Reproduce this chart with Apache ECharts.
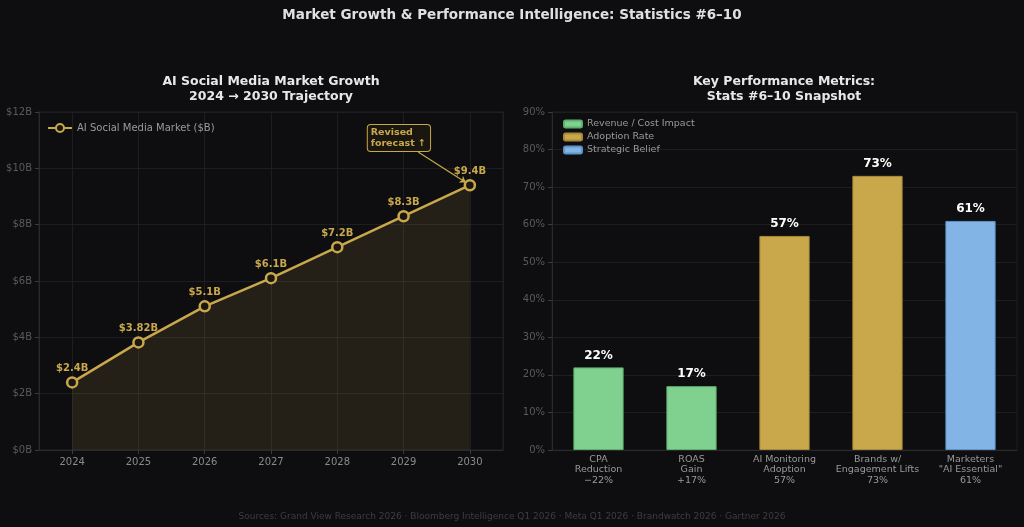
<!DOCTYPE html>
<html>
  <head>
    <meta charset="utf-8" />
    <title>ECharts</title>
    <script src="https://cdn.jsdelivr.net/npm/echarts@6/dist/echarts.min.js"></script>
    <style>
      body { margin: 0; background: #0e0e10; }
    </style>
  </head>

  <body>
    <div id="main" style="width: 1024px; height: 527px"></div>
    <script type="text/javascript">
      var myChart = echarts.init(document.getElementById("main"));

      // market growth (left)
      const years = [2024, 2025, 2026, 2027, 2028, 2029, 2030];
      const marketValues = [2.4, 3.82, 5.1, 6.1, 7.2, 8.3, 9.4];
      const marketLabels = ["$2.4B", "$3.82B", "$5.1B", "$6.1B", "$7.2B", "$8.3B", "$9.4B"];

      // performance metrics (right)
      const metricNames = [
        "CPA\nReduction\n\u221222%",
        "ROAS\nGain\n+17%",
        "AI Monitoring\nAdoption\n57%",
        "Brands w/\nEngagement Lifts\n73%",
        'Marketers\n"AI Essential"\n61%',
      ];
      const metricValues = [22, 17, 57, 73, 61];
      const metricGroups = [0, 0, 1, 1, 2];
      const groupNames = ["Revenue / Cost Impact", "Adoption Rate", "Strategic Belief"];
      const groupColors = ["#80d18f", "#c9a84c", "#82b4e6"];
      const groupBorders = ["#5fae6e", "#a8893a", "#5f93c8"];

      const gold = "#c9a84c";
      const font = "DejaVu Sans";

      const barSeries = groupNames.map(function (name, g) {
        return {
          name: name,
          type: "bar",
          xAxisIndex: 1,
          yAxisIndex: 1,
          stack: "metrics",
          barWidth: "54%",
          itemStyle: { color: groupColors[g], borderColor: groupBorders[g], borderWidth: 1 },
          label: {
            show: true,
            position: "top",
            distance: 6,
            color: "#ffffff",
            fontWeight: "bold",
            fontSize: 12,
            fontFamily: font,
            formatter: function (p) { return p.value + "%"; },
          },
          data: metricValues.map(function (v, i) {
            return metricGroups[i] === g ? v : null;
          }),
        };
      });

      const axisLabelStyle = { color: "#5a5a5a", fontSize: 10, fontFamily: font };
      const gridLine = { show: true, lineStyle: { color: "#1e1e21", width: 1 } };
      const axisLine = { show: true, lineStyle: { color: "#2a2a2d" } };

      option = {
        backgroundColor: "#0e0e10",
        textStyle: { fontFamily: font },
        title: [
          {
            text: "Market Growth & Performance Intelligence: Statistics #6\u201310",
            left: "center",
            top: 3,
            textStyle: { color: "#e0e0e0", fontSize: 13.5, fontWeight: "bold", fontFamily: font },
          },
          {
            text: "AI Social Media Market Growth\n2024 \u2192 2030 Trajectory",
            left: 266,
            top: 69,
            textAlign: "center",
            textStyle: { color: "#e8e8e8", fontSize: 12.5, fontWeight: "bold", lineHeight: 15, fontFamily: font },
          },
          {
            text: "Key Performance Metrics:\nStats #6\u201310 Snapshot",
            left: 779,
            top: 69,
            textAlign: "center",
            textStyle: { color: "#e8e8e8", fontSize: 12.5, fontWeight: "bold", lineHeight: 15, fontFamily: font },
          },
          {
            text: "Sources: Grand View Research 2026 \u00b7 Bloomberg Intelligence Q1 2026 \u00b7 Meta Q1 2026 \u00b7 Brandwatch 2026 \u00b7 Gartner 2026",
            left: "center",
            top: 507,
            textStyle: { color: "#3e3e42", fontSize: 9, fontWeight: "normal", fontFamily: font },
          },
        ],
        legend: [
          {
            data: ["AI Social Media Market ($B)"],
            left: 42,
            top: 118,
            itemWidth: 24,
            itemHeight: 10,
            itemGap: 4,
            textStyle: { color: "#9a9a9a", fontSize: 10, fontFamily: font },
          },
          {
            data: groupNames,
            orient: "vertical",
            left: 558,
            top: 114,
            itemGap: 3,
            itemWidth: 18,
            itemHeight: 7,
            textStyle: { color: "#9a9a9a", fontSize: 9.5, fontFamily: font },
          },
        ],
        grid: [
          {
            left: 39, right: 521, top: 112, bottom: 77,
            show: true, borderColor: "#222225", borderWidth: 1, backgroundColor: "transparent",
          },
          {
            left: 552, right: 7, top: 112, bottom: 77,
            show: true, borderColor: "#1c1c1f", borderWidth: 1, backgroundColor: "transparent",
          },
        ],
        xAxis: [
          {
            type: "value",
            gridIndex: 0,
            min: years[0] - 0.5,
            max: years[years.length - 1] + 0.5,
            splitNumber: 7,
            axisLine: axisLine,
            axisTick: { show: true, length: 4, lineStyle: { color: "#3a3a3d" } },
            axisLabel: {
              color: "#8a8a8a", fontSize: 10, fontFamily: font, margin: 7,
              showMinLabel: false, showMaxLabel: false,
              formatter: function (v) { return Number.isInteger(v) ? String(v) : ""; },
            },
            splitLine: gridLine,
          },
          {
            type: "category",
            gridIndex: 1,
            data: metricNames,
            axisLine: axisLine,
            axisTick: { show: false },
            axisLabel: { color: "#999999", fontSize: 9.5, lineHeight: 10.5, fontFamily: font, margin: 4, interval: 0 },
            splitLine: { show: false },
          },
        ],
        yAxis: [
          {
            type: "value",
            gridIndex: 0,
            min: 0,
            max: 12,
            interval: 2,
            axisLine: axisLine,
            axisTick: { show: true, length: 4, lineStyle: { color: "#3a3a3d" } },
            axisLabel: Object.assign({}, axisLabelStyle, {
              margin: 7,
              formatter: function (v) { return "$" + v + "B"; },
            }),
            splitLine: gridLine,
          },
          {
            type: "value",
            gridIndex: 1,
            min: 0,
            max: 90,
            interval: 10,
            axisLine: axisLine,
            axisTick: { show: true, length: 4, lineStyle: { color: "#3a3a3d" } },
            axisLabel: Object.assign({}, axisLabelStyle, {
              margin: 7,
              formatter: function (v) { return v + "%"; },
            }),
            splitLine: gridLine,
          },
        ],
        series: [
          {
            name: "AI Social Media Market ($B)",
            type: "line",
            xAxisIndex: 0,
            yAxisIndex: 0,
            data: years.map(function (y, i) { return [y, marketValues[i]]; }),
            symbol: "circle",
            symbolSize: 10,
            lineStyle: { color: gold, width: 2.5 },
            itemStyle: { color: "#1a1710", borderColor: gold, borderWidth: 2.5 },
            areaStyle: { color: "rgba(201,168,76,0.17)" },
            label: {
              show: true,
              position: "top",
              distance: 3,
              color: gold,
              fontWeight: "bold",
              fontSize: 10,
              fontFamily: font,
              formatter: function (p) { return marketLabels[p.dataIndex]; },
            },
            markLine: {
              silent: true,
              symbol: ["none", "arrow"],
              symbolSize: 6,
              lineStyle: { color: gold, width: 1.2, type: "solid" },
              label: { show: false },
              data: [[{ coord: [2029.22, 10.58] }, { coord: [2029.94, 9.5] }]],
            },
            markPoint: {
              silent: true,
              symbol: "rect",
              symbolSize: 0,
              data: [
                {
                  coord: [2028.46, 11.08],
                  label: {
                    show: true,
                    position: "inside",
                    formatter: "Revised\nforecast \u2191",
                    color: gold,
                    fontWeight: "bold",
                    fontSize: 9.5,
                    lineHeight: 11,
                    align: "left",
                    fontFamily: font,
                    backgroundColor: "#1a1710",
                    borderColor: gold,
                    borderWidth: 1,
                    borderRadius: 3,
                    padding: [2, 4, 2, 3],
                  },
                },
              ],
            },
          },
        ].concat(barSeries),
      };

      myChart.setOption(option);
    </script>
  </body>
</html>
